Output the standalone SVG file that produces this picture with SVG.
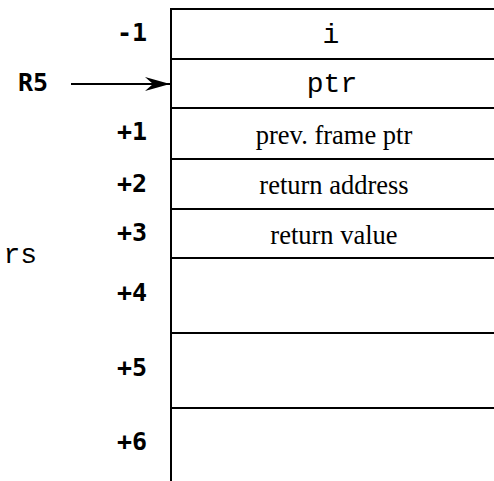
<svg xmlns="http://www.w3.org/2000/svg" width="494" height="481" viewBox="0 0 494 481">
<style>
.ln{stroke:#000;stroke-width:2;fill:none}
.lbl{font-family:"DejaVu Sans Mono",monospace;font-weight:bold;font-size:25px;text-anchor:end}
.mono{font-family:"Liberation Mono",monospace;font-size:28px;text-anchor:middle}
.ser{font-family:"Liberation Serif",serif;font-size:26.5px;text-anchor:middle}
</style>
<defs>
<marker id="ah" markerWidth="25" markerHeight="14" refX="25" refY="7" orient="auto" markerUnits="userSpaceOnUse">
<path d="M0,0 L25,7 L0,14 L8,7 Z" fill="#000"/>
</marker>
</defs>
<rect width="494" height="481" fill="#fff"/>
<g id="stack">
<path class="ln" d="M171,481 V9 H494"/>
<path class="ln" d="M171,59 H494 M171,108 H494 M171,159 H494 M171,209 H494 M171,258 H494 M171,333 H494 M171,408 H494"/>
</g>
<g id="cell-i"><text class="mono" x="331" y="43">i</text></g>
<g id="cell-ptr"><text class="mono" x="332" y="92">ptr</text></g>
<g id="cell-prev"><text class="ser" x="334" y="144">prev. frame ptr</text></g>
<g id="cell-ret"><text class="ser" x="334" y="194">return address</text></g>
<g id="cell-val"><text class="ser" x="334" y="244">return value</text></g>
<g id="offsets">
<text class="lbl" x="147" y="41">-1</text>
<text class="lbl" x="147" y="140">+1</text>
<text class="lbl" x="147" y="192">+2</text>
<text class="lbl" x="147" y="241">+3</text>
<text class="lbl" x="147" y="301">+4</text>
<text class="lbl" x="147" y="376">+5</text>
<text class="lbl" x="147" y="450">+6</text>
</g>
<g id="R5"><text class="lbl" x="48" y="91">R5</text></g>
<g id="rs"><text x="37" y="263" style="font-family:'Liberation Mono',monospace;font-size:28px;text-anchor:end">rs</text></g>
<g id="connectors">
<line class="ln" x1="71" y1="84" x2="170" y2="84" marker-end="url(#ah)"/>
</g>
</svg>
